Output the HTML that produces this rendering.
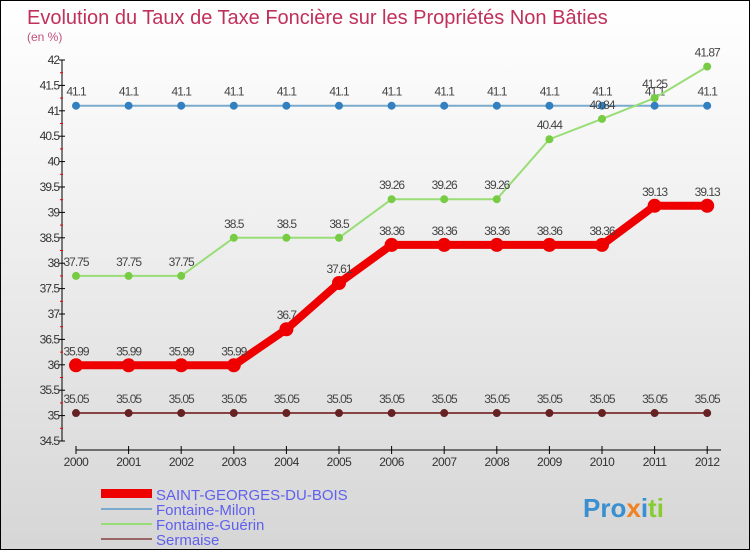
<!DOCTYPE html>
<html><head><meta charset="utf-8"><style>
body{margin:0}
#c{width:748px;height:548px;border:1px solid #000;position:relative;background:linear-gradient(#ffffff,#f4f4f4 30%,#d6d6d6);font-family:"Liberation Sans",sans-serif;overflow:hidden}
</style></head><body>
<div id="c">
<svg id="s" width="748" height="548">
<text x="26" y="23" font-size="20" fill="#c0305a" font-weight="300">Evolution du Taux de Taxe Foncière sur les Propriétés Non Bâties</text>
<text x="26" y="40" font-size="12" fill="#c0507a">(en %)</text>
<g id="axes"></g><g id="series"></g>
<g>
<rect x="100" y="488" width="51" height="9" fill="#ee0000"/>
<text x="155" y="499" font-size="15" fill="#6060ee">SAINT-GEORGES-DU-BOIS</text>
<rect x="100" y="507" width="51" height="2" fill="#7aaacc"/>
<text x="155" y="514" font-size="15" fill="#6060ee">Fontaine-Milon</text>
<rect x="100" y="522" width="51" height="2" fill="#99dd77"/>
<text x="155" y="529" font-size="15" fill="#6060ee">Fontaine-Guérin</text>
<rect x="100" y="537" width="51" height="2" fill="#996666"/>
<text x="155" y="544" font-size="15" fill="#6060ee">Sermaise</text>
</g>
<g font-size="26" font-weight="bold">
<text x="582" y="516"><tspan fill="#3a8fd0">Pro</tspan><tspan fill="#f08020">x</tspan><tspan fill="#3a8fd0">i</tspan><tspan fill="#88cc33">ti</tspan></text>
</g>
</svg></div>
<script>
const years=[2000,2001,2002,2003,2004,2005,2006,2007,2008,2009,2010,2011,2012];
const saint=[35.99,35.99,35.99,35.99,36.7,37.61,38.36,38.36,38.36,38.36,38.36,39.13,39.13];
const milon=[41.1,41.1,41.1,41.1,41.1,41.1,41.1,41.1,41.1,41.1,41.1,41.1,41.1];
const guerin=[37.75,37.75,37.75,38.5,38.5,38.5,39.26,39.26,39.26,40.44,40.84,41.25,41.87];
const sermaise=[35.05,35.05,35.05,35.05,35.05,35.05,35.05,35.05,35.05,35.05,35.05,35.05,35.05];
const yTicks=[34.5,35,35.5,36,36.5,37,37.5,38,38.5,39,39.5,40,40.5,41,41.5,42];
const NS="http://www.w3.org/2000/svg";
const X=i=>75+i*52.6, Y=v=>440-(v-34.5)*50.8;
function mk(p,t,a){const e=document.createElementNS(NS,t);for(const k in a)e.setAttribute(k,a[k]);p.appendChild(e);return e;}
const ax=document.getElementById('axes'), se=document.getElementById('series');
let l=mk(ax,'line',{x1:61,y1:Y(42),x2:61,y2:Y(34.5),stroke:'#000'});

l=mk(ax,'line',{x1:X(0),y1:449,x2:720,y2:449,stroke:'#000'});

yTicks.forEach((v,i)=>{
 mk(ax,'line',{x1:58,y1:Y(v),x2:64,y2:Y(v),stroke:'#000'});
 if(i<yTicks.length-1)mk(ax,'line',{x1:59,y1:Y(v+0.25),x2:62,y2:Y(v+0.25),stroke:'#e00'});
 const t=mk(ax,'text',{x:58,y:Y(v)+4,'font-size':12,'text-anchor':'end',fill:'#333','letter-spacing':'-1'});
 t.textContent=String(v);
 
});
years.forEach((y,i)=>{
 mk(ax,'line',{x1:X(i),y1:445,x2:X(i),y2:453,stroke:'#000'});
 const t=mk(ax,'text',{x:X(i),y:465,'font-size':12,'text-anchor':'middle',fill:'#333','letter-spacing':'-0.5'});
 t.textContent=y;
 
});
function draw(vals,name,color,dot,w,r){
 const g=mk(se,'g',{});
 
 const p=mk(g,'polyline',{points:vals.map((v,i)=>X(i)+','+Y(v)).join(' '),fill:'none',stroke:color,'stroke-width':w,'stroke-linejoin':'round'});
 
 vals.forEach((v,i)=>{
  const c=mk(g,'circle',{cx:X(i),cy:Y(v),r:r,fill:dot});
  
  const t=mk(g,'text',{x:X(i),y:Y(v)-10,'font-size':12,'text-anchor':'middle',fill:'#444','letter-spacing':'-1'});
  t.textContent=v;
  
 });
}
draw(sermaise,'sermaise','#884444','#662222',2,4);
draw(milon,'fontaine-milon','#7aaacc','#3380c0',2,4);
draw(guerin,'fontaine-guerin','#99dd77','#77cc44',2,4);
draw(saint,'saint-georges','#ee0000','#ee0000',8,7);
</script></body></html>
